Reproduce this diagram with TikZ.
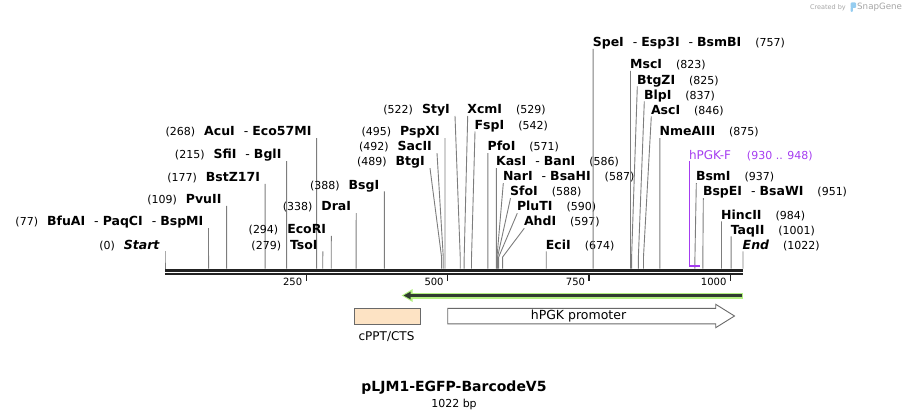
\documentclass[tikz,border=0pt]{standalone}
\usepackage{fontspec}
\setmainfont{DejaVu Sans}
\usetikzlibrary{arrows.meta}
\definecolor{cutline}{RGB}{125,125,125}
\definecolor{seqcol}{RGB}{34,34,34}
\definecolor{primer}{RGB}{165,60,240}
\definecolor{orfhalo}{RGB}{178,240,128}
\definecolor{orfcore}{RGB}{48,60,48}
\definecolor{cpptfill}{RGB}{253,227,196}
\definecolor{featline}{RGB}{105,105,105}
\definecolor{logogray}{RGB}{165,165,165}
\definecolor{logoblue}{RGB}{150,205,240}
\newcommand{\sepr}{\hspace{9pt}{\mdseries-}\hspace{4pt}}
\newcommand{\posnum}[1]{{\fontsize{11}{13}\selectfont\mdseries(#1)}}
\begin{document}
\begin{tikzpicture}[x=1pt,y=-1pt,
  cut/.style={draw=cutline,line width=0.9pt},
  rlab/.style={anchor=base west,inner sep=0pt,font=\fontsize{12.5}{14}\selectfont},
  llab/.style={anchor=base east,inner sep=0pt,font=\fontsize{12.5}{14}\selectfont},
  featbox/.style={draw=featline,line width=0.9pt}]
\useasboundingbox (0,0) rectangle (909,419);
\node[anchor=base east,inner sep=0pt,text=logogray,font=\fontsize{6.5}{8}\selectfont](created)at(846,10){Created by};
\fill[logoblue,rounded corners=1pt](850.5,2.5)rectangle(856,8)(850.5,7)rectangle(852.8,12);
\node[anchor=base west,inner sep=0pt,text=logogray,font=\fontsize{8.7}{10}\selectfont](snapgene)at(857,10){SnapGene};
% sequence
\coordinate(seqa)at(165.3,270.3);\coordinate(seqb)at(743.3,270.3);
\coordinate(seqc)at(165.3,273.9);\coordinate(seqd)at(743.3,273.9);
\draw[seqcol,line width=3.3pt](seqa)--(seqb);
\draw[seqcol,line width=1.8pt](seqc)--(seqd);
\foreach \t in {250,500,750,1000}{
  \draw[seqcol,line width=1.4pt](165+\t*0.56556,275.3)--(165+\t*0.56556,281.3);
  \node[anchor=base east,inner sep=0pt,font=\fontsize{10}{12}\selectfont](tk\t)at(161+\t*0.56556,286){\t};
}
% enzymes to the left of their cut
\foreach \i/\p/\y/\xt/\nm in {1/0/245/165/\textit{Start},2/77/221.7/208.5/BfuAI\sepr PaqCI\sepr BspMI,
  3/109/199.3/226.6/PvuII,4/177/177.3/265.1/BstZ17I,5/215/154.7/286.6/SfiI\sepr BglI,
  6/268/131.7/316.6/AcuI\sepr Eco57MI,7/279/245/322.8/TsoI,8/294/229.3/331.3/EcoRI,
  9/338/206.7/356.2/DraI,10/388/185/384.4/BsgI,11/489/161.7/430/BtgI,12/492/146.7/437/SacII,
  13/495/131.7/445/PspXI,14/522/109.5/455/StyI}{
  \coordinate(lt\i)at(\xt,\y+6.5);
  \coordinate(lk\i)at(165+\p*0.56556,257);
  \coordinate(lb\i)at(165+\p*0.56556,268.7);
  \node[llab](l\i)at(\xt-5,\y+4.3){\posnum{\p}\hspace{9pt}\textbf{\nm}};
  \draw[cut](lt\i)--(lk\i)--(lb\i);
}
% enzymes to the right of their cut
\foreach \i/\p/\y/\xt/\nm in {1/529/109.5/467.7/XcmI,2/542/125/475/FspI,3/571/146.7/487.9/PfoI,
  4/586/161.7/496.4/KasI\sepr BanI,5/587/176.7/503.3/NarI\sepr BsaHI,6/588/191.7/510.5/SfoI,
  7/590/206.7/517.3/PluTI,8/597/221.7/524.3/AhdI,9/674/245/546.2/EciI,
  10/757/42.3/593.1/SpeI\sepr Esp3I\sepr BsmBI,11/823/64.3/630.5/MscI,12/825/80/637.3/BtgZI,
  13/837/95/644.3/BlpI,14/846/110/651.3/AscI,15/875/131.7/659.9/NmeAIII,16/937/176.7/696.3/BsmI,
  17/951/191.7/703.3/BspEI\sepr BsaWI,18/984/215/721.5/HincII,19/1001/230/731.1/TaqII,
  20/1022/245/743/\textit{End}}{
  \coordinate(rt\i)at(\xt,\y+6.5);
  \coordinate(rk\i)at(165+\p*0.56556,257);
  \coordinate(rb\i)at(165+\p*0.56556,268.7);
  \node[rlab](r\i)at(\xt-0.5,\y+4.3){\textbf{\nm}\hspace{14pt}\posnum{\p}};
  \draw[cut](rt\i)--(rk\i)--(rb\i);
}
% primer
\node[rlab,text=primer,font=\fontsize{12}{14}\selectfont](hpgkf)at(688.8,159.3){hPGK-F\hspace{16pt}\posnum{930 .. 948}};
\coordinate(pf1)at(689.5,161.5);\coordinate(pf2)at(689.5,266);\coordinate(pf3)at(699.5,266);
\draw[primer,line width=1.7pt](pf1)--(pf2)--(pf3);
% ORF arrow
\coordinate(orfs)at(743.3,295.5);\coordinate(orfe)at(401.5,295.5);
\draw[orfhalo,line width=6pt,-{Triangle[length=11pt 0 0,width=12pt 0 0]}](orfs)--(orfe);
\draw[orfcore,line width=2.4pt,-{Triangle[length=7pt 0 0,width=7pt 0 0]}]([xshift=-1pt]orfs)--([xshift=2pt]orfe);
% features
\node[featbox,fill=cpptfill,minimum width=65.8pt,minimum height=15.8pt,inner sep=0pt](cppt)at(387.4,316.2){};
\node[font=\fontsize{12}{14}\selectfont,inner sep=0pt](cpptlab)at(386.5,337){cPPT/CTS};
\draw[featbox,fill=white](447.7,308.3)--(715.7,308.3)--(715.7,304.3)--(734.5,316)--(715.7,327.7)--(715.7,323.8)--(447.7,323.8)--cycle;
\node[font=\fontsize{12.5}{14}\selectfont,inner sep=0pt](hpgk)at(578.5,316){hPGK promoter};
% title
\node[font=\bfseries\fontsize{14}{16}\selectfont,inner sep=0pt](title)at(454,388){pLJM1-EGFP-BarcodeV5};
\node[font=\fontsize{11}{13}\selectfont,inner sep=0pt](size)at(454,404){1022 bp};
\end{tikzpicture}
\end{document}
